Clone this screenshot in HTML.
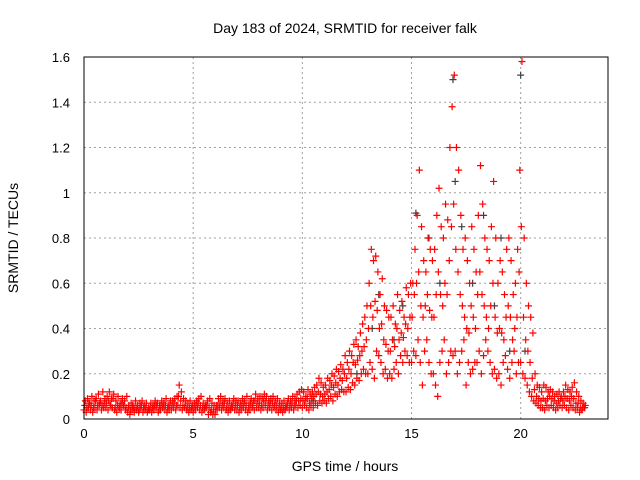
<!DOCTYPE html>
<html><head><meta charset="utf-8"><style>
body{margin:0;background:#fff}
svg{display:block;font-family:"Liberation Sans",sans-serif}
</style></head><body>
<svg id="c" width="640" height="480"></svg>
<script>
const lo=[.04,.03,.05,.04,.03,.05,.04,.06,.04,.05,.05,.04,.06,.05,.04,.03,.05,.04,.06,.04,.03,.02,.04,.03,.04,.03,.05,.03,.04,.03,.04,.03,.04,.05,.03,.04,.05,.04,.03,.04,.04,.05,.04,.06,.05,.04,.05,.04,.03,.04,.03,.04,.05,.04,.03,.04,.05,.02,.03,.02,.02,.04,.05,.04,.05,.04,.03,.04,.05,.04,.04,.03,.04,.05,.04,.03,.04,.05,.04,.05,.05,.04,.05,.06,.04,.05,.04,.05,.04,.03,.04,.03,.04,.05,.04,.05,.04,.06,.05,.06,.05,.06,.05,.04,.06,.05,.07,.06,.08,.07,.08,.07,.09,.10,.08,.11,.10,.12,.13,.12,.12,.14,.13,.16,.15,.18,.17,.20,.22,.20,.20,.25,.22,.18,.30,.28,.25,.20,.22,.18,.20,.18,.22,.25,.20,.28,.25,.30,.28,.25,.25,.30,.28,.35,.25,.15,.30,.35,.25,.20,.20,.15,.10,.25,.30,.35,.20,.25,.30,.28,.30,.20,.25,.30,.35,.15,.25,.20,.22,.25,.25,.30,.20,.28,.35,.30,.25,.20,.22,.18,.20,.15,.25,.28,.22,.18,.25,.30,.20,.25,.25,.20,.18,.15,.12,.10,.08,.07,.06,.05,.05,.04,.06,.05,.06,.05,.04,.05,.06,.05,.06,.05,.04,.06,.05,.04,.05,.03,.04,.05];
const hi=[.08,.09,.07,.10,.08,.09,.11,.08,.12,.09,.10,.12,.09,.11,.08,.10,.07,.09,.08,.10,.06,.07,.05,.08,.06,.07,.08,.06,.07,.05,.07,.06,.08,.07,.06,.08,.07,.09,.06,.08,.08,.09,.10,.15,.12,.09,.08,.07,.08,.06,.07,.08,.09,.10,.07,.06,.08,.09,.07,.06,.06,.09,.10,.08,.09,.07,.08,.06,.09,.08,.08,.07,.09,.08,.10,.07,.09,.08,.11,.09,.10,.09,.11,.10,.08,.09,.10,.08,.09,.07,.07,.08,.06,.09,.08,.10,.09,.11,.12,.13,.12,.10,.13,.11,.12,.14,.15,.18,.16,.14,.15,.18,.17,.20,.19,.22,.21,.24,.22,.28,.25,.30,.28,.33,.35,.32,.38,.42,.45,.50,.60,.75,.70,.72,.65,.55,.62,.50,.48,.45,.45,.50,.42,.55,.48,.52,.45,.58,.55,.60,.60,.75,.90,1.10,.85,.70,.65,.80,.75,.70,.75,.90,1.02,.85,.80,.95,.88,1.20,1.38,1.52,1.20,1.10,.90,.75,.80,.70,.60,.85,.75,.65,.90,1.12,.95,.80,.75,.70,.85,1.05,.80,.60,.70,.65,.55,.75,.80,.70,.55,.60,.75,1.10,1.58,.80,.60,.50,.45,.38,.20,.15,.14,.12,.15,.14,.12,.13,.12,.10,.11,.12,.10,.12,.15,.13,.12,.14,.16,.12,.10,.08,.07,.06];
const mid=[.06,.05,.07,.06,.05,.08,.06,.07,.06,.07,.07,.08,.06,.09,.05,.06,.05,.07,.06,.05,.05,.04,.06,.05,.05,.04,.06,.05,.05,.04,.05,.05,.06,.06,.04,.06,.06,.06,.05,.06,.06,.07,.06,.10,.08,.06,.06,.05,.05,.05,.05,.06,.07,.06,.05,.05,.06,.05,.04,.04,.04,.06,.07,.06,.07,.05,.05,.05,.07,.06,.06,.05,.06,.07,.06,.05,.07,.06,.08,.07,.07,.06,.08,.08,.06,.07,.07,.06,.06,.05,.05,.05,.05,.07,.06,.07,.06,.08,.08,.09,.08,.08,.09,.07,.09,.10,.11,.12,.11,.10,.11,.12,.13,.15,.14,.16,.15,.18,.17,.20,.18,.22,.20,.25,.24,.26,.28,.30,.32,.35,.40,.50,.45,.52,.48,.40,.42,.35,.33,.30,.30,.35,.32,.40,.35,.38,.36,.42,.40,.45,.45,.55,.60,.65,.50,.45,.50,.55,.48,.45,.45,.55,.65,.55,.50,.60,.55,.70,.85,.95,.75,.65,.55,.50,.45,.40,.38,.50,.45,.40,.55,.65,.55,.50,.45,.40,.50,.60,.45,.38,.40,.38,.35,.45,.50,.45,.35,.40,.45,.65,.85,.45,.35,.30,.25,.18,.13,.10,.09,.08,.09,.08,.09,.10,.09,.08,.07,.08,.09,.08,.10,.09,.08,.10,.09,.07,.07,.05,.05,.05];
const grayT=[10.5,12.5,13.2,13.5,14.2,14.6,15.2,15.8,16.3,16.9,17.0,17.3,17.8,18.3,18.8,19.1,19.5,20.0,20.2,21.0];
const grayV=[.08,.2,.4,.55,.35,.5,.91,.8,.6,1.5,1.05,.85,.6,.9,.5,.8,.3,1.52,.3,.05];
const xTicks=[0,5,10,15,20];
const yTicks=[0,0.2,0.4,0.6,0.8,1,1.2,1.4,1.6];
const yLabels=["0","0.2","0.4","0.6","0.8","1","1.2","1.4","1.6"];
const L=84,R=608,T=57,B=419;
const X=t=>L+(R-L)*t/24, Y=v=>B-(B-T)*v/1.6;
const s=document.getElementById('c'),NS='http://www.w3.org/2000/svg';
function mk(tag,a,txt){const e=document.createElementNS(NS,tag);for(const k in a)e.setAttribute(k,a[k]);if(txt!=null)e.textContent=txt;s.appendChild(e);return e;}
xTicks.forEach(t=>{
 const g=mk('line',{x1:X(t),x2:X(t),y1:T,y2:B,stroke:'#a0a0a0','stroke-dasharray':'2,3'});
 
 
 const l=mk('text',{x:X(t),y:B+19,'text-anchor':'middle','font-size':13},String(t));
 
 
});
yTicks.forEach((v,i)=>{
 const g=mk('line',{x1:L,x2:R,y1:Y(v),y2:Y(v),stroke:'#a0a0a0','stroke-dasharray':'2,3'});
 
 
 const l=mk('text',{x:L-14,y:Y(v)+5,'text-anchor':'end','font-size':13},yLabels[i]);
 
 
});
function plus(x,y,c,n){const p=mk('path',{d:`M${x-3.5},${y}h7M${x},${y-3.5}v7`,stroke:c,'stroke-width':1.2});
 
 }
grayT.forEach((t,i)=>plus(X(t),Y(grayV[i]),'#404040','gray-point'));
[lo,mid,hi].forEach((arr,k)=>arr.forEach((v,i)=>{plus(X(i*0.1+k*0.03),Y(v),'#ff0000','red-point');}));
const fr=mk('rect',{x:L,y:T,width:R-L,height:B-T,fill:'none',stroke:'#000'});


const t1=mk('text',{x:345,y:33,'text-anchor':'middle','font-size':14},'Day 183 of 2024, SRMTID for receiver falk');


const t2=mk('text',{x:345,y:471,'text-anchor':'middle','font-size':14},'GPS time / hours');


const t3=mk('text',{x:18,y:238,'text-anchor':'middle','font-size':14,transform:'rotate(-90 18 238)'},'SRMTID / TECUs');


</script>
</body></html>
